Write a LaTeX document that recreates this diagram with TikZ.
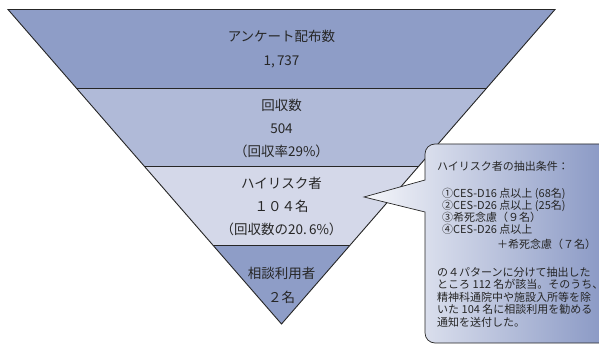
\documentclass[tikz,border=0pt]{standalone}
\usepackage{fontspec}
\setmainfont{Noto Sans CJK JP}
\usepackage{xcolor}
\usepackage{tikz}
\usetikzlibrary{calc}

\definecolor{bandDark}{RGB}{142,157,199}
\definecolor{bandMid}{RGB}{176,186,216}
\definecolor{bandLight}{RGB}{212,216,233}
\definecolor{noteLeft}{RGB}{245,246,250}
\definecolor{noteRight}{RGB}{122,139,189}
\definecolor{inkgray}{RGB}{38,38,38}

\begin{document}
\begin{tikzpicture}[x=1pt, y=-1pt, every node/.style={inner sep=0pt, text=inkgray},
    bandtext/.style={align=center, font=\fontsize{13.5}{23}\selectfont},
    notetext/.style={align=left, anchor=north west, font=\fontsize{11}{12.5}\selectfont}]
    \useasboundingbox (0,0) rectangle (599,347);
    \clip (0,0) rectangle (599,347);

    \coordinate (tl) at (8,9.5);
    \coordinate (tr) at (555,9.5);
    \coordinate (apex) at (281.5,324);

    \foreach \a/\b/\col in {0/0.25/bandDark, 0.25/0.5/bandMid, 0.5/0.75/bandLight, 0.75/1/bandDark}
        \fill[\col] ($(tl)!\a!(apex)$) -- ($(tl)!\b!(apex)$) -- ($(tr)!\b!(apex)$) -- ($(tr)!\a!(apex)$) -- cycle;
    \foreach \f in {0.25,0.5,0.75}
        \draw[line width=0.9pt, inkgray] ($(tl)!\f!(apex)$) -- ($(tr)!\f!(apex)$);
    \draw[line width=0.9pt, inkgray] (tl) -- (tr) -- (apex) -- cycle;

    \node (sent) at (281.5,49) [bandtext, font=\fontsize{13.5}{24}\selectfont] {アンケート配布数\\1,\,737};
    \node (returned) at (281.5,128) [bandtext] {回収数\\504\\（回収率29\%）};
    \node (highrisk) at (281.5,206.5) [bandtext] {ハイリスク者\\１０４名\\（回収数の20.\,6\%）};
    \node (consult) at (281.5,285) [bandtext, font=\fontsize{13.5}{24}\selectfont] {相談利用者\\２名};

    \draw[line width=0.7pt, draw=inkgray, left color=noteLeft, right color=noteRight]
        (425,212) -- (364,197) -- (425,180) -- (425,154)
        arc[start angle=180, end angle=270, radius=10] -- (640,144) -- (640,343) -- (435,343)
        arc[start angle=90, end angle=180, radius=10] -- cycle;

    \node (criteria) at (437,166) [anchor=west, font=\fontsize{11}{12.5}\selectfont] {ハイリスク者の抽出条件：};
    \node (patterns) at (442,188) [notetext, font=\fontsize{11}{11.5}\selectfont] {①CES-D16 点以上 (68名)\\②CES-D26 点以上 (25名)\\③希死念慮（９名）\\④CES-D26 点以上\\[4pt]\hspace*{55pt}＋希死念慮（７名）};
    \node (result) at (437,267) [notetext] {の４パターンに分けて抽出した\\ところ 112 名が該当。そのうち、\\精神科通院中や施設入所等を除\\いた 104 名に相談利用を勧める\\通知を送付した。};
\end{tikzpicture}
\end{document}
